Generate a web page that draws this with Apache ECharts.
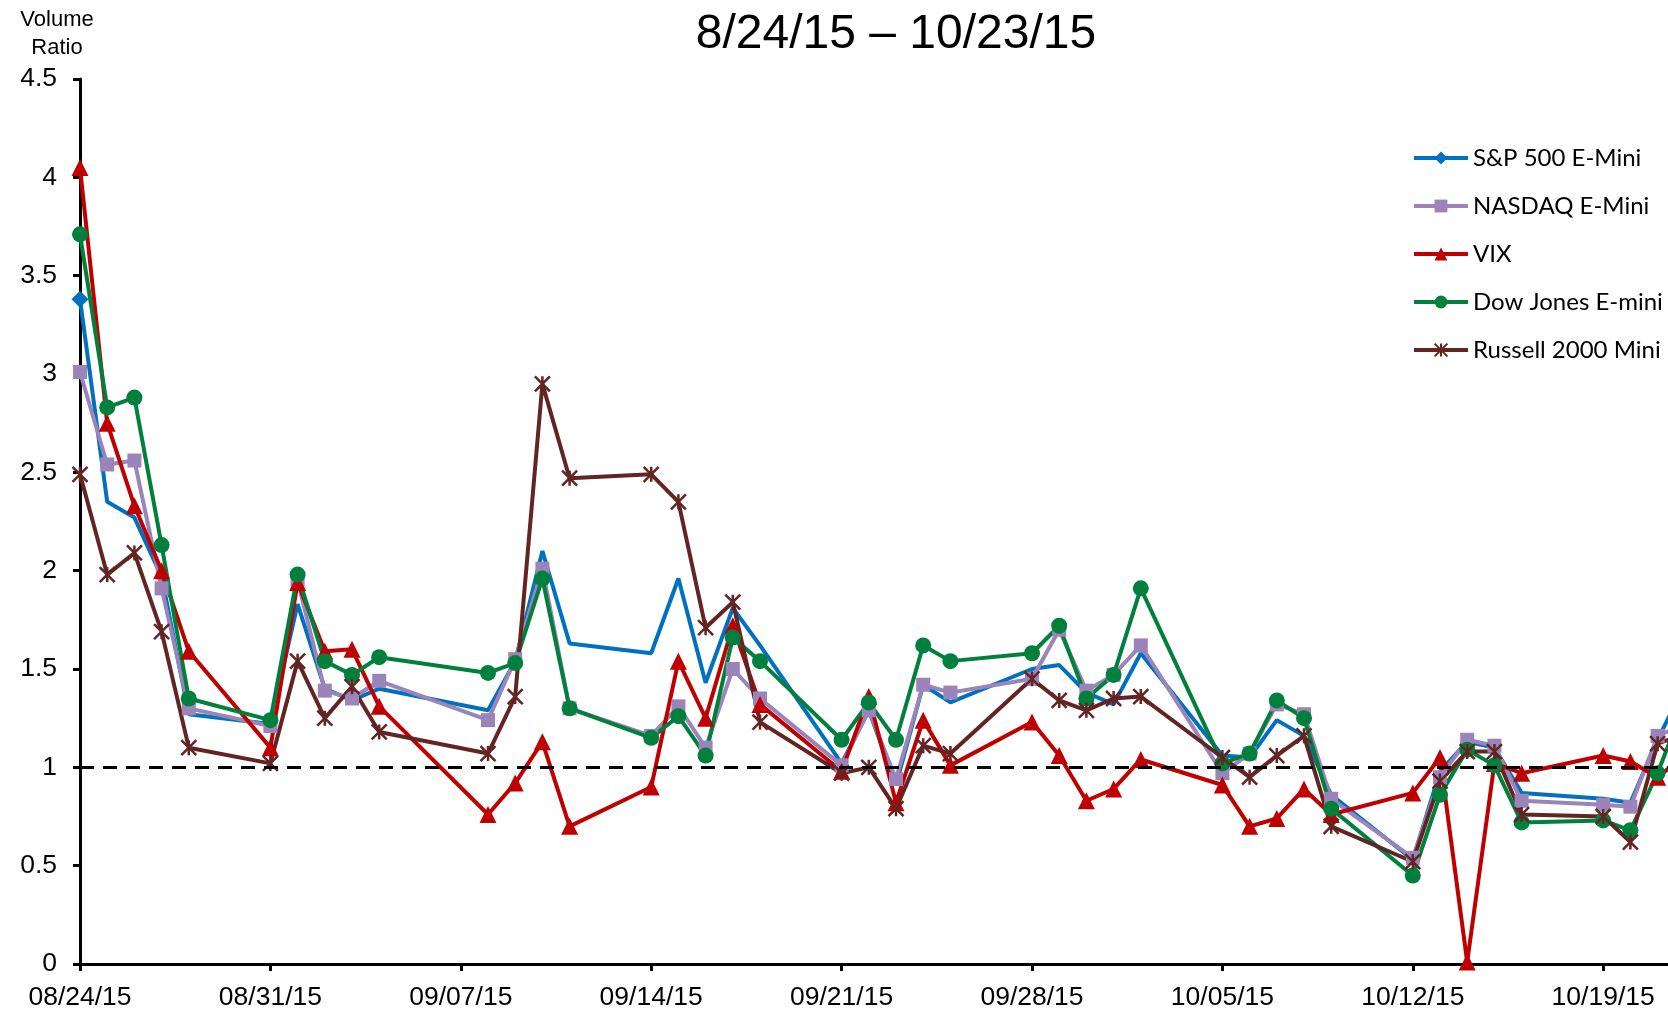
<!DOCTYPE html>
<html>
<head>
<meta charset="utf-8">
<title>Volume Ratio 8/24/15 – 10/23/15</title>
<script src="https://cdn.jsdelivr.net/npm/echarts@6/dist/echarts.min.js"></script>
<style>
  html, body { margin: 0; padding: 0; background: #fff; }
  #volumeRatioChart { width: 1668px; height: 1011px; }
</style>
</head>
<body>
<div id="volumeRatioChart"></div>
<script>
// trading days (Labor Day 09/07 has no point)
const tradeDates = [
    '2015-08-24', '2015-08-25', '2015-08-26', '2015-08-27', '2015-08-28',
    '2015-08-31', '2015-09-01', '2015-09-02', '2015-09-03', '2015-09-04',
    '2015-09-08', '2015-09-09', '2015-09-10', '2015-09-11',
    '2015-09-14', '2015-09-15', '2015-09-16', '2015-09-17', '2015-09-18',
    '2015-09-21', '2015-09-22', '2015-09-23', '2015-09-24', '2015-09-25',
    '2015-09-28', '2015-09-29', '2015-09-30', '2015-10-01', '2015-10-02',
    '2015-10-05', '2015-10-06', '2015-10-07', '2015-10-08', '2015-10-09',
    '2015-10-12', '2015-10-13', '2015-10-14', '2015-10-15', '2015-10-16',
    '2015-10-19', '2015-10-20', '2015-10-21', '2015-10-22', '2015-10-23'
];

const spValues = [
    3.38, 2.35, 2.27, 1.97, 1.27,
    1.22, 1.83, 1.40, 1.34, 1.40,
    1.29, 1.54, 2.10, 1.63,
    1.58, 1.96, 1.43, 1.81, 1.62,
    1.02, 1.29, 0.91, 1.42, 1.33,
    1.50, 1.52, 1.38, 1.32, 1.58,
    1.06, 1.05, 1.24, 1.16, 0.86,
    0.53, 0.98, 1.13, 1.10, 0.87,
    0.84, 0.82, 1.14, 1.42, 1.10
];

const nasdaqValues = [
    3.01, 2.54, 2.56, 1.91, 1.30,
    1.21, 1.95, 1.39, 1.35, 1.44,
    1.24, 1.55, 2.01, 1.30,
    1.16, 1.31, 1.10, 1.50, 1.35,
    1.01, 1.29, 0.94, 1.42, 1.38,
    1.45, 1.70, 1.39, 1.47, 1.62,
    0.97, 1.07, 1.32, 1.27, 0.84,
    0.54, 0.95, 1.14, 1.11, 0.83,
    0.81, 0.80, 1.16, 1.22, 1.00
];

const vixValues = [
    4.05, 2.75, 2.33, 2.00, 1.59,
    1.10, 1.94, 1.59, 1.60, 1.31,
    0.76, 0.92, 1.13, 0.70,
    0.90, 1.54, 1.25, 1.72, 1.32,
    0.98, 1.36, 0.82, 1.24, 1.01,
    1.23, 1.06, 0.83, 0.89, 1.04,
    0.91, 0.70, 0.74, 0.89, 0.76,
    0.87, 1.05, 0.01, 1.02, 0.97,
    1.06, 1.03, 0.95, 1.06, 0.98
];

const dowValues = [
    3.71, 2.83, 2.88, 2.13, 1.35,
    1.24, 1.98, 1.54, 1.47, 1.56,
    1.48, 1.53, 1.96, 1.30,
    1.15, 1.26, 1.06, 1.66, 1.54,
    1.14, 1.33, 1.14, 1.62, 1.54,
    1.58, 1.72, 1.35, 1.47, 1.91,
    1.02, 1.07, 1.34, 1.25, 0.79,
    0.45, 0.86, 1.09, 1.01, 0.72,
    0.73, 0.68, 0.97, 1.33, 1.05
];

const russellValues = [
    2.49, 1.98, 2.09, 1.69, 1.10,
    1.02, 1.54, 1.25, 1.41, 1.18,
    1.07, 1.36, 2.95, 2.47,
    2.49, 2.35, 1.71, 1.84, 1.23,
    0.97, 1.00, 0.79, 1.11, 1.07,
    1.45, 1.34, 1.29, 1.35, 1.36,
    1.05, 0.95, 1.06, 1.16, 0.70,
    0.52, 0.93, 1.08, 1.08, 0.76,
    0.75, 0.62, 1.12, 1.17, 1.00
];

const seriesNames = ['S&P 500 E-Mini', 'NASDAQ E-Mini', 'VIX', 'Dow Jones E-mini', 'Russell 2000 Mini'];
const titleText = '8/24/15 – 10/23/15';
const yAxisName = 'Volume\nRatio';

const DAY_MS = 86400000;
const startTime = Date.parse(tradeDates[0]);
const axisEndDay = 63;       // axis runs past the right edge of the picture
const dayWidth = 27.2;
const refLevel = 1;

window.addEventListener('DOMContentLoaded', function() {
    initVolumeRatioChart();
});

function dayOffset(dateStr) {
    return Math.round((Date.parse(dateStr) - startTime) / DAY_MS);
}

function pad2(n) {
    return (n < 10 ? '0' : '') + n;
}

function dayLabel(value) {
    const d = new Date(startTime + value * DAY_MS);
    return pad2(d.getUTCMonth() + 1) + '/' + pad2(d.getUTCDate()) + '/' + pad2(d.getUTCFullYear() % 100);
}

function toPoints(values) {
    return values.map((v, i) => [dayOffset(tradeDates[i]), v]);
}

function initVolumeRatioChart() {
    const chartDom = document.getElementById('volumeRatioChart');
    const myChart = echarts.init(chartDom);
    const axisFont = '"Liberation Sans", Arial, sans-serif';

    const lineSeries = (name, values, color, extra) => Object.assign({
        name: name,
        type: 'line',
        data: toPoints(values),
        lineStyle: { color: color, width: 4 },
        itemStyle: { color: color },
        symbolSize: 15,
        clip: true
    }, extra);

    const option = {
        animation: false,
        backgroundColor: '#fff',
        graphic: [
            {
                type: 'text',
                x: 896,
                y: 35,
                style: {
                    text: titleText,
                    fontSize: 48,
                    fontFamily: axisFont,
                    fill: '#000',
                    align: 'center',
                    verticalAlign: 'middle'
                }
            },
            {
                type: 'text',
                x: 57,
                y: 6,
                style: {
                    text: yAxisName,
                    fontSize: 22,
                    lineHeight: 28,
                    fontFamily: axisFont,
                    fill: '#000',
                    align: 'center',
                    verticalAlign: 'top'
                }
            }
        ],
        legend: {
            orient: 'vertical',
            left: 1407,
            top: 141,
            itemWidth: 54,
            itemHeight: 16,
            itemGap: 24,
            selectedMode: false,
            lineStyle: { width: 4 },
            textStyle: {
                fontSize: 24,
                fontFamily: 'Lato, "Open Sans", sans-serif',
                color: '#000'
            },
            data: seriesNames
        },
        grid: {
            left: 80,
            top: 79,
            width: axisEndDay * dayWidth,
            height: 885,
            outerBoundsMode: 'none',
            containLabel: false
        },
        xAxis: {
            type: 'value',
            min: 0,
            max: axisEndDay,
            interval: 7,
            axisLine: { lineStyle: { color: '#000', width: 3 } },
            axisTick: { length: 7, lineStyle: { color: '#000', width: 3 } },
            splitLine: { show: false },
            axisLabel: {
                formatter: dayLabel,
                fontSize: 26.5,
                fontFamily: axisFont,
                color: '#000',
                margin: 20
            }
        },
        yAxis: {
            type: 'value',
            min: 0,
            max: 4.5,
            interval: 0.5,
            axisLine: { show: true, lineStyle: { color: '#000', width: 3 } },
            axisTick: { show: true, length: 7, lineStyle: { color: '#000', width: 3 } },
            splitLine: { show: false },
            axisLabel: {
                fontSize: 26.5,
                fontFamily: axisFont,
                color: '#000',
                margin: 23
            }
        },
        series: [
            lineSeries(seriesNames[0], spValues, '#0070C0', {
                symbol: 'diamond',
                // only the first point carries a marker in the original
                symbolSize: (val, params) => params.dataIndex === 0 ? 17 : 0,
                markLine: {
                    silent: true,
                    symbol: 'none',
                    label: { show: false },
                    lineStyle: { color: '#000', width: 3, type: [14, 9] },
                    data: [{ yAxis: refLevel }]
                }
            }),
            lineSeries(seriesNames[1], nasdaqValues, '#9A84BA', {
                symbol: 'rect',
                symbolSize: 14
            }),
            lineSeries(seriesNames[2], vixValues, '#C00000', {
                symbol: 'triangle',
                symbolSize: 17
            }),
            lineSeries(seriesNames[3], dowValues, '#00803C', {
                symbol: 'circle',
                symbolSize: 16
            }),
            lineSeries(seriesNames[4], russellValues, '#632523', {
                symbol: 'path://M0 0L10 10M10 0L0 10M5 0L5 10',
                symbolSize: 15,
                itemStyle: { color: '#632523', borderColor: '#632523', borderWidth: 2.5 }
            })
        ]
    };

    myChart.setOption(option);
    window.addEventListener('resize', () => myChart.resize());
}
</script>
</body>
</html>
